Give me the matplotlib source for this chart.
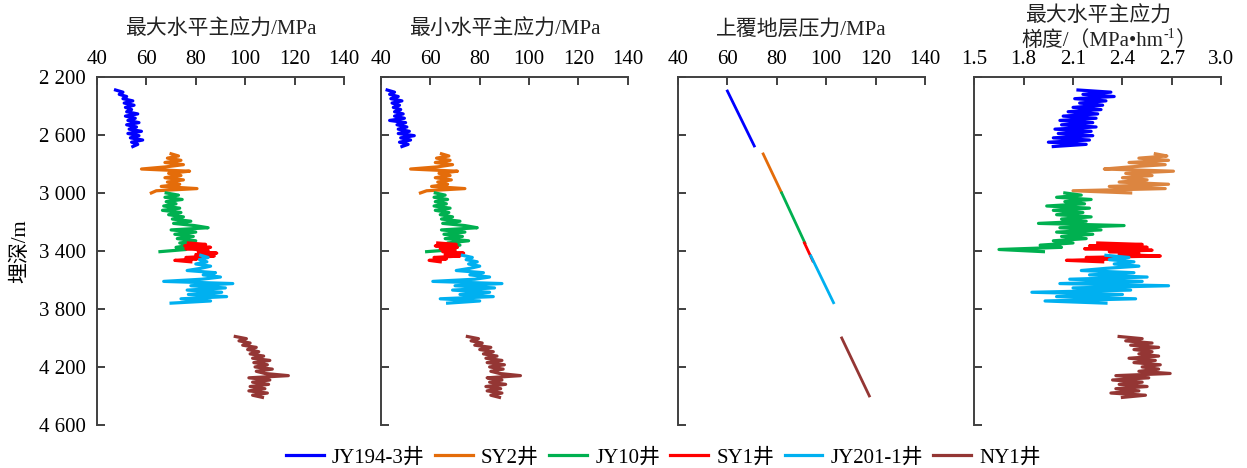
"""Well-log stress profiles for six wells: max/min horizontal stress, overburden,
and max horizontal stress gradient versus burial depth.

Outputs: out.png
"""
import matplotlib
matplotlib.use("Agg")
import matplotlib.pyplot as plt

# ── Data ─────────────────────────────────────────────────────────────────────
WELLS = ["JY194-3井", "SY2井", "JY10井", "SY1井", "JY201-1井", "NY1井"]
COLORS = ["#0000ff", "#e46c0a", "#00b050", "#ff0000", "#00b0f0", "#943634"]
GRAD_COLORS = ["#0000ff", "#dc8540", "#00b050", "#ff0000", "#00b0f0", "#943634"]

# depths (m) per well
depth_jy194 = [2290, 2305, 2320, 2335, 2350, 2365, 2380, 2395, 2410, 2425, 2440,
               2455, 2470, 2485, 2500, 2515, 2530, 2545, 2560, 2575, 2590, 2605,
               2620, 2635, 2650, 2665, 2680]
depth_sy2 = [2730, 2745, 2760, 2775, 2790, 2805, 2820, 2835, 2850, 2865, 2880,
             2895, 2910, 2925, 2940, 2955, 2970, 2985, 3000]
depth_jy10 = [3000, 3015, 3030, 3045, 3060, 3075, 3090, 3105, 3120, 3135, 3150,
              3165, 3180, 3195, 3210, 3225, 3240, 3255, 3270, 3285, 3300, 3315,
              3330, 3345, 3360, 3375, 3390, 3405]
depth_sy1 = [3345, 3355, 3365, 3375, 3385, 3395, 3405, 3415, 3425, 3435, 3445,
             3455, 3465, 3475]
depth_jy201 = [3430, 3445, 3460, 3475, 3490, 3505, 3520, 3535, 3550, 3565, 3580,
               3595, 3610, 3625, 3640, 3655, 3670, 3685, 3700, 3715, 3730, 3745,
               3760]
depth_ny1 = [3990, 4005, 4020, 4035, 4050, 4065, 4080, 4095, 4110, 4125, 4140,
             4155, 4170, 4185, 4200, 4215, 4230, 4245, 4260, 4275, 4290, 4305,
             4320, 4335, 4350, 4365, 4380, 4395, 4410]

# maximum horizontal principal stress (MPa)
shmax_jy194 = [47.5, 50.5, 49.0, 52.0, 50.5, 54.5, 51.0, 55.0, 51.5, 54.0, 52.0,
               56.5, 51.5, 55.5, 52.5, 57.0, 52.0, 56.0, 53.0, 58.0, 52.5, 57.0,
               53.5, 58.5, 54.0, 56.5, 54.5]
shmax_sy2 = [70.0, 73.0, 68.5, 74.0, 67.5, 75.0, 68.0, 58.0, 77.5, 69.0, 74.0,
             67.5, 75.0, 68.5, 73.5, 66.0, 80.5, 64.0, 62.0]
shmax_jy10 = [68.0, 73.0, 67.5, 74.5, 68.0, 72.0, 67.0, 73.5, 66.5, 74.0, 69.0,
              75.0, 70.5, 78.0, 71.0, 79.5, 85.0, 70.0, 80.0, 71.5, 79.0, 72.5,
              80.0, 73.5, 78.0, 72.0, 76.0, 65.5]
shmax_sy1 = [77.0, 84.0, 75.5, 86.0, 76.0, 85.0, 81.0, 88.5, 80.0, 87.5, 76.0,
             80.5, 71.5, 78.0]
shmax_jy201 = [82.0, 85.0, 81.5, 84.5, 80.0, 86.0, 82.0, 76.5, 88.0, 83.0, 90.0,
               82.5, 67.0, 95.0, 78.0, 92.0, 76.5, 90.5, 77.0, 92.5, 74.0, 86.0,
               70.0]
shmax_ny1 = [96.0, 100.5, 97.5, 102.0, 99.0, 104.5, 101.0, 105.5, 102.0, 107.5,
             103.0, 110.0, 103.5, 109.0, 104.0, 111.0, 104.5, 108.0, 117.5, 101.5,
             110.0, 103.0, 109.5, 102.0, 108.0, 101.5, 109.0, 103.0, 107.0]

# minimum horizontal principal stress (MPa)
shmin_jy194 = [42.5, 45.5, 43.5, 47.0, 44.0, 48.5, 44.5, 47.5, 45.0, 48.0, 45.5,
               49.0, 45.5, 49.5, 43.5, 50.0, 46.5, 50.5, 47.0, 51.5, 47.0, 53.5,
               48.0, 52.0, 47.5, 51.0, 48.5]
shmin_sy2 = [64.5, 67.5, 62.5, 68.0, 62.0, 69.0, 63.0, 52.0, 71.0, 63.5, 68.0,
             62.0, 68.5, 63.0, 67.0, 60.5, 74.0, 58.5, 56.0]
shmin_jy10 = [62.0, 66.0, 61.5, 67.0, 62.0, 66.5, 61.5, 68.0, 62.0, 67.5, 64.0,
              69.0, 64.5, 72.0, 65.0, 74.0, 79.0, 64.5, 74.0, 65.5, 73.0, 66.0,
              75.5, 67.0, 72.0, 66.0, 70.0, 58.5]
shmin_sy1 = [63.0, 70.5, 62.0, 71.0, 64.0, 70.0, 65.0, 73.5, 66.0, 72.0, 61.5,
             66.5, 59.5, 64.0]
shmin_jy201 = [73.0, 77.0, 74.5, 79.0, 75.5, 80.0, 76.0, 70.5, 81.5, 76.0, 84.0,
               78.0, 61.0, 89.0, 70.0, 86.0, 69.0, 84.0, 72.0, 85.5, 64.0, 80.0,
               67.0]
shmin_ny1 = [75.0, 79.5, 76.5, 81.0, 78.0, 84.5, 80.0, 85.5, 81.5, 87.0, 82.5,
             89.0, 83.0, 90.0, 84.0, 89.5, 84.5, 88.0, 96.5, 83.0, 89.0, 84.0,
             90.5, 82.5, 88.5, 83.0, 89.0, 84.5, 88.0]

# overburden pressure (MPa): top/bottom of each well's trend line
ob_depth = [(2297, 2676), (2731, 2993), (3000, 3345), (3345, 3469),
            (3434, 3757), (4000, 4400)]
ob_value = [(60.0, 70.9), (74.5, 81.8), (82.0, 91.4), (91.2, 94.6),
            (93.8, 103.0), (106.3, 117.5)]

# max horizontal stress gradient (MPa/hm)
grad_jy194 = [2.13, 2.33, 2.16, 2.35, 2.11, 2.30, 2.14, 2.28, 2.10, 2.27, 2.07,
              2.25, 2.04, 2.24, 2.02, 2.22, 2.03, 2.24, 1.99, 2.21, 2.01, 2.22,
              1.98, 2.20, 1.95, 2.18, 1.98]
grad_sy2 = [2.60, 2.67, 2.50, 2.68, 2.44, 2.66, 2.45, 2.29, 2.71, 2.42, 2.58,
            2.40, 2.55, 2.38, 2.68, 2.32, 2.66, 2.10, 2.45]
grad_jy10 = [2.05, 2.15, 2.00, 2.21, 2.05, 2.17, 1.94, 2.20, 1.98, 2.16, 2.00,
             2.21, 2.03, 2.18, 1.89, 2.41, 2.02, 2.27, 2.00, 2.22, 2.03, 2.18,
             1.98, 2.10, 1.90, 2.03, 1.65, 1.92]
grad_sy1 = [2.25, 2.52, 2.20, 2.55, 2.17, 2.58, 2.32, 2.50, 2.38, 2.63, 2.18,
            2.36, 2.06, 2.28]
grad_jy201 = [2.30, 2.44, 2.32, 2.47, 2.35, 2.50, 2.30, 2.15, 2.47, 2.20, 2.55,
              2.08, 2.52, 2.02, 2.68, 2.10, 2.45, 1.85, 2.40, 2.00, 2.48, 1.93,
              2.30]
grad_ny1 = [2.38, 2.52, 2.42, 2.58, 2.45, 2.62, 2.47, 2.58, 2.50, 2.62, 2.44,
            2.60, 2.47, 2.63, 2.52, 2.62, 2.50, 2.69, 2.36, 2.56, 2.34, 2.52,
            2.38, 2.55, 2.36, 2.50, 2.33, 2.54, 2.40]

DEPTHS = [depth_jy194, depth_sy2, depth_jy10, depth_sy1, depth_jy201, depth_ny1]
SHMAX = [shmax_jy194, shmax_sy2, shmax_jy10, shmax_sy1, shmax_jy201, shmax_ny1]
SHMIN = [shmin_jy194, shmin_sy2, shmin_jy10, shmin_sy1, shmin_jy201, shmin_ny1]
GRAD = [grad_jy194, grad_sy2, grad_jy10, grad_sy1, grad_jy201, grad_ny1]

Y_TICKS = [2200, 2600, 3000, 3400, 3800, 4200, 4600]
Y_LABELS = ["2 200", "2 600", "3 000", "3 400", "3 800", "4 200", "4 600"]
STRESS_TICKS = [40, 60, 80, 100, 120, 140]
GRAD_TICKS = [1.5, 1.8, 2.1, 2.4, 2.7, 3.0]
GRAD_LABELS = ["1.5", "1.8", "2.1", "2.4", "2.7", "3.0"]

TITLES = ["最大水平主应力/MPa", "最小水平主应力/MPa", "上覆地层压力/MPa"]
GRAD_TITLE_1 = "最大水平主应力"
GRAD_TITLE_2 = ("梯度/（MPa•hm", "-1", "）")


def style_axis(ax, xticks, xlabels, xlim, show_y):
    ax.set_ylim(4600, 2200)
    ax.set_xlim(*xlim)
    ax.xaxis.tick_top()
    ax.set_xticks(xticks)
    ax.set_xticklabels(xlabels)
    ax.set_yticks(Y_TICKS)
    ax.set_yticklabels(Y_LABELS if show_y else [])
    ax.tick_params(direction="in", length=6, width=1.4, color="#404040",
                   labelsize=15)
    ax.tick_params(axis="y", pad=8)
    ax.tick_params(axis="x", pad=6)
    for s in ("right", "bottom"):
        ax.spines[s].set_visible(False)
    for s in ("left", "top"):
        ax.spines[s].set_color("#404040")
        ax.spines[s].set_linewidth(1.4)


def main():
    plt.rcParams["font.family"] = ["Liberation Serif", "Noto Sans CJK SC", "DejaVu Sans"]

    fig = plt.figure(figsize=(12.47, 4.68), dpi=100)
    lefts = [0.0778, 0.3055, 0.5437, 0.7813]
    axes = [fig.add_axes([l, 0.092, 0.198, 0.7436]) for l in lefts]

    lw = 2.3
    handles = []
    for i in range(len(WELLS)):
        h, = axes[0].plot(SHMAX[i], DEPTHS[i], color=COLORS[i], lw=lw,
                          label=WELLS[i])
        handles.append(h)
        axes[1].plot(SHMIN[i], DEPTHS[i], color=COLORS[i], lw=lw)
        axes[2].plot(ob_value[i], ob_depth[i], color=COLORS[i], lw=2.0)
        axes[3].plot(GRAD[i], DEPTHS[i], color=GRAD_COLORS[i], lw=lw)

    for k, ax in enumerate(axes[:3]):
        style_axis(ax, STRESS_TICKS, [str(t) for t in STRESS_TICKS], (40, 140), k == 0)
    style_axis(axes[3], GRAD_TICKS, GRAD_LABELS, (1.5, 3.0), False)

    tc = "#222222"
    for k, ax in enumerate(axes[:3]):
        ax.text(0.5, 1.135, TITLES[k], transform=ax.transAxes, ha="center",
                va="center", fontsize=15, color=tc)
    # two-line title on the gradient panel, superscript set as its own text
    ax = axes[3]
    ax.text(0.5, 1.172, GRAD_TITLE_1, transform=ax.transAxes, ha="center",
            va="center", fontsize=15, color=tc)
    t1 = ax.text(0.765, 1.103, GRAD_TITLE_2[0], transform=ax.transAxes,
                 ha="right", va="center", fontsize=15, color=tc)
    t2 = ax.annotate(GRAD_TITLE_2[1], xy=(1.0, 0.5), xycoords=t1, ha="left",
                     va="bottom", fontsize=10, color=tc)
    ax.annotate(GRAD_TITLE_2[2], xy=(1.0, 0.5), xycoords=(t2, t1), ha="left",
                va="center", fontsize=15, color=tc)

    axes[0].set_ylabel("埋深/m", fontsize=15, labelpad=6)

    fig.legend(handles=handles, labels=WELLS, loc="center", ncol=6,
               bbox_to_anchor=(0.532, 0.022), frameon=False, fontsize=15,
               handlelength=1.8, handletextpad=0.4, columnspacing=0.5)

    fig.savefig("out.png", dpi=100)


if __name__ == "__main__":
    main()
